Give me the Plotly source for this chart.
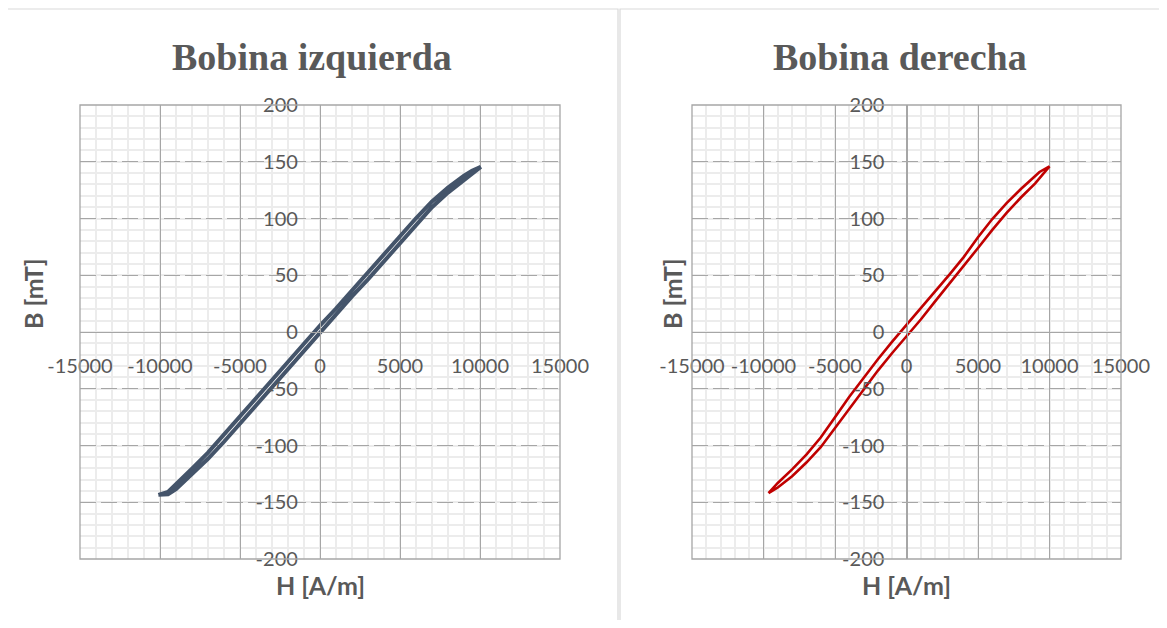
import plotly.graph_objects as go

# The page shows the figure 8px in from the top-left corner of the window.
OX, OY = 8, 8
FW, FH = 1151, 612

titles = ["Bobina izquierda", "Bobina derecha"]
x_title = "H [A/m]"
y_title = "B [mT]"

x_ticks = [-15000, -10000, -5000, 0, 5000, 10000, 15000]
x_tick_text = ["-15000", "-10000", "-5000", "0", "5000", "10000", "15000"]
y_ticks = [-200, -150, -100, -50, 0, 50, 100, 150, 200]
y_tick_text = ["-200", "-150", "-100", "-50", "0", "50", "100", "150", "200"]

# Left coil (Bobina izquierda): ascending branch (lower) and descending branch (upper)
H_left = [-10100, -9500, -9000, -8000, -7000, -6000, -5000, -4000, -3000, -2000, -1000,
          0, 1000, 2000, 3000, 4000, 5000, 6000, 7000, 8000, 9000, 9500, 10050]
B_left_asc = [-143.5, -143, -138.5, -125.5, -111.7, -96.7, -80.7, -63.7, -47.7, -31.7, -15.7,
              0.3, 15.3, 31.3, 46.3, 62.3, 78.8, 94.8, 110, 122.8, 134.3, 140, 145.5]
B_left_desc = [-143.5, -141, -133.5, -120.5, -106.3, -91.3, -75.3, -58.3, -42.3, -26.3, -10.3,
               5.7, 20.7, 36.7, 51.7, 67.7, 84.2, 100.2, 115, 127.2, 137.7, 142, 145.5]

# Right coil (Bobina derecha)
H_right_asc = [-9650, -9000, -8000, -7000, -6000, -5000, -4000, -3000, -2000, -1000,
               0, 1000, 2000, 3000, 4000, 5000, 6000, 7000, 8000, 9000, 10000]
B_right_asc = [-142, -137, -127, -115, -101.5, -84.5, -67.5, -50.5, -34, -18.5,
               -4, 11, 27, 42.5, 57.5, 74, 90, 105, 118.5, 131, 146]
H_right_desc = [-9650, -9000, -8000, -7000, -6000, -5000, -4000, -3000, -2000, -1000,
                0, 1000, 2000, 3000, 4000, 5000, 6000, 7000, 8000, 9000, 9300, 10000]
B_right_desc = [-142, -133, -121, -108, -93, -75, -57, -40.5, -24, -8.5,
                6, 21, 36, 50.5, 66, 83.5, 99.5, 113.5, 126, 137.5, 141, 146]

colors = ["#44546A", "#C00000"]
widths = [4.0, 2.6]

GRAY_TXT = "#595959"
MAJOR = "#A6A6A6"
MINOR = "#ECECEC"


def px(xp):
    return (xp - OX) / FW


def py(yp):
    return 1 - (yp - OY) / FH


# plot-area domains (paper fractions), from window pixel positions
xdoms = [[px(80), px(560)], [px(692), px(1121)]]
ydom = [py(559), py(105)]
y_zero_pos = (ydom[0] + ydom[1]) / 2

fig = go.Figure()

loops = [
    (H_left + H_left[::-1], B_left_asc + B_left_desc[::-1]),
    (H_right_asc + H_right_desc[::-1], B_right_asc + B_right_desc[::-1]),
]

for i, (hx, by) in enumerate(loops):
    sfx = "" if i == 0 else str(i + 1)
    fig.add_trace(go.Scatter(
        x=hx, y=by, mode="lines",
        line=dict(color=colors[i], width=widths[i]),
        xaxis="x" + sfx, yaxis="y" + sfx, showlegend=False, hoverinfo="skip",
    ))
    xd = xdoms[i]
    x_zero_pos = (xd[0] + xd[1]) / 2
    xa = dict(
        domain=xd, range=[-15000, 15000], anchor="free", position=y_zero_pos,
        tickmode="array", tickvals=x_ticks, ticktext=x_tick_text,
        showgrid=True, gridcolor=MAJOR, gridwidth=1.3,
        minor=dict(dtick=1000, tick0=0, showgrid=True, gridcolor=MINOR, gridwidth=1.6,
                   griddash="solid"),
        showline=True, linecolor=MAJOR, linewidth=1.3,
        zeroline=False, ticks="", ticklabelstandoff=16, automargin=False,
        tickfont=dict(family="Lato", size=20, color=GRAY_TXT),
        fixedrange=True,
    )
    ya = dict(
        domain=ydom, range=[-200, 200], anchor="free", position=x_zero_pos,
        tickmode="array", tickvals=y_ticks, ticktext=y_tick_text,
        showgrid=True, gridcolor=MAJOR, gridwidth=1.3, griddash="16px,5px",
        minor=dict(dtick=10, tick0=0, showgrid=True, gridcolor=MINOR, gridwidth=1.6,
                   griddash="solid"),
        showline=True, linecolor=MAJOR, linewidth=1.3,
        zeroline=False, ticks="", ticklabelstandoff=18, automargin=False,
        tickfont=dict(family="Lato", size=20, color=GRAY_TXT),
        fixedrange=True,
    )
    if i == 0:
        fig.update_layout(xaxis=xa, yaxis=ya)
    else:
        fig.update_layout(xaxis2=xa, yaxis2=ya)

    # plot area frame
    fig.add_shape(type="rect", xref="x%s domain" % sfx, yref="y%s domain" % sfx,
                  x0=0, x1=1, y0=0, y1=1, line=dict(color=MAJOR, width=1.3), layer="above")

    # chart title
    cx = px(312) if i == 0 else px(900)
    fig.add_annotation(text="<b>%s</b>" % titles[i], xref="paper", yref="paper",
                       x=cx, y=py(57), showarrow=False, xanchor="center", yanchor="middle",
                       font=dict(family="Liberation Serif", size=38, color=GRAY_TXT))
    # axis titles
    hx_c = (xd[0] + xd[1]) / 2
    fig.add_annotation(text="<b>%s</b>" % x_title, xref="paper", yref="paper",
                       x=hx_c, y=py(585), showarrow=False, xanchor="center", yanchor="middle",
                       font=dict(family="Lato", size=25, color=GRAY_TXT))
    bx = px(33) if i == 0 else px(672)
    fig.add_annotation(text="<b>%s</b>" % y_title, xref="paper", yref="paper",
                       x=bx, y=py(294), showarrow=False, textangle=-90,
                       xanchor="center", yanchor="middle",
                       font=dict(family="Lato", size=25, color=GRAY_TXT))

# chart borders
fig.add_shape(type="rect", xref="paper", yref="paper",
              x0=px(6), x1=px(618), y0=-0.05, y1=py(9),
              line=dict(color="#D9D9D9", width=1.2), layer="below")
fig.add_shape(type="rect", xref="paper", yref="paper",
              x0=px(620), x1=1.05, y0=-0.05, y1=py(9),
              line=dict(color="#D9D9D9", width=1.2), layer="below")

fig.update_layout(
    width=FW, height=FH, margin=dict(l=0, r=0, t=0, b=0, autoexpand=False),
    paper_bgcolor="white", plot_bgcolor="white",
    showlegend=False,
)

fig.write_html("out.html")
